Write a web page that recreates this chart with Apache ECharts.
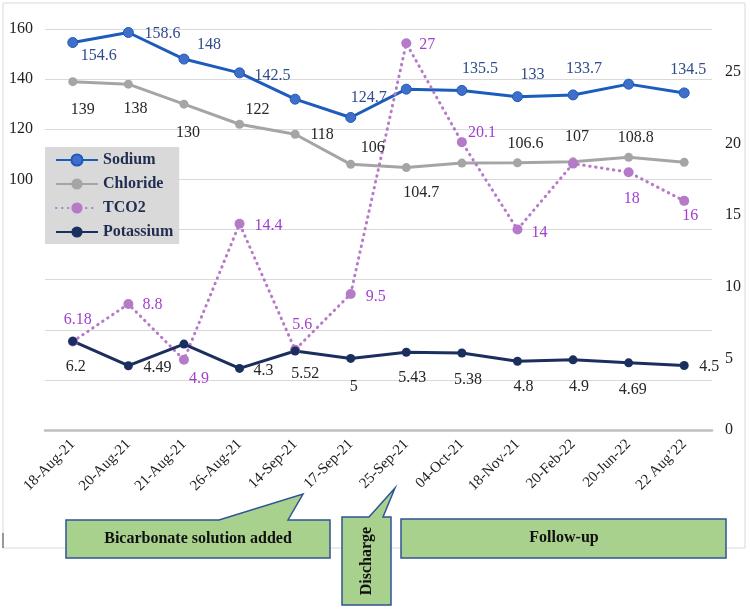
<!DOCTYPE html>
<html>
<head>
<meta charset="utf-8">
<script src="https://cdn.jsdelivr.net/npm/echarts@6/dist/echarts.min.js"></script>
<style>
  html, body { margin: 0; padding: 0; background: #fff; }
  #chart { width: 750px; height: 609px; }
</style>
</head>
<body>
<div id="chart"></div>
<script>
// data
const dates = ['18-Aug-21', '20-Aug-21', '21-Aug-21', '26-Aug-21', '14-Sep-21', '17-Sep-21',
  '25-Sep-21', '04-Oct-21', '18-Nov-21', '20-Feb-22', '20-Jun-22', '22 Aug\u201922'];
const sodium = [154.6, 158.6, 148, 142.5, 132, 124.7, 136, 135.5, 133, 133.7, 138, 134.5];
const chloride = [139, 138, 130, 122, 118, 106, 104.7, 106.5, 106.6, 107, 108.8, 106.8];
const tco2 = [6.18, 8.8, 4.9, 14.4, 5.6, 9.5, 27, 20.1, 14, 18.6, 18, 16];
const potassium = [6.2, 4.49, 6, 4.3, 5.52, 5, 5.43, 5.38, 4.8, 4.9, 4.69, 4.5];
const leftTicks = [100, 120, 140, 160];
const rightTicks = [0, 5, 10, 15, 20, 25];

// label placement (offset from the marker, null = no label)
const sodiumLbl = [[26, 13], [34, 1], [25, -14], [33, 3], null, [18, -20], null, [18, -22], [15, -22], [11, -26], null, [4, -23]];
const chlorideLbl = [[10, 28], [7, 25], [4, 29], [18, -14], [27, 1], [22, -17], [15, 25], null, [8, -19], [4, -25], [7, -20], null];
const tco2Lbl = [[5, -22], [24, 1], [15, 19], [29, 2], [7, -25], [25, 3], [21, 1], [20, -9], [22, 3], null, [3, 27], [6, 15]];
const potassiumLbl = [[3, 26], [29, 2], null, [24, 2], [10, 23], [3, 28], [6, 26], [6, 27], [6, 26], [6, 27], [4, 27], [25, 1]];

const FONT = '"Liberation Serif", "Times New Roman", serif';

function withLabels(values, offs, color) {
  return values.map((v, i) => ({
    value: v,
    label: offs[i]
      ? { show: true, position: 'inside', offset: offs[i], color: color, fontFamily: FONT, fontSize: 16 }
      : { show: false }
  }));
}

const chart = echarts.init(document.getElementById('chart'));

// callout boxes under the axis
function callout(points) {
  return {
    type: 'polygon',
    shape: { points: points },
    style: { fill: '#a9d18e', stroke: '#2f5496', lineWidth: 1.5 },
    z: 10
  };
}
function boxText(x, y, text, rot) {
  return {
    type: 'text', x: x, y: y, rotation: rot || 0, z: 11,
    style: { text: text, fill: '#111', font: 'bold 16px ' + FONT, align: 'center', verticalAlign: 'middle' }
  };
}

const option = {
  backgroundColor: '#fff',
  animation: false,
  grid: { left: 45, right: 38, top: 29, bottom: 179 },
  legend: {
    orient: 'vertical',
    left: 45,
    top: 147,
    backgroundColor: '#d9d9d9',
    padding: [5, 6, 4, 10],
    itemWidth: 42,
    itemHeight: 14,
    itemGap: 8,
    textStyle: { fontFamily: FONT, fontSize: 16, fontWeight: 'bold', color: '#1f2d50' },
    data: ['Sodium', 'Chloride', 'TCO2', 'Potassium']
  },
  xAxis: {
    type: 'category',
    data: dates,
    axisLine: { lineStyle: { color: '#bfbfbf', width: 2.5 } },
    axisTick: { show: false },
    axisLabel: { rotate: 45, margin: 12, fontFamily: FONT, fontSize: 15, color: '#222', interval: 0 }
  },
  yAxis: [
    {
      type: 'value', min: 0, max: 160, interval: 20,
      axisLine: { show: false }, axisTick: { show: false },
      splitLine: { lineStyle: { color: '#d9d9d9', width: 1 } },
      axisLabel: {
        margin: 12, fontFamily: FONT, fontSize: 16, color: '#222',
        formatter: v => (leftTicks.includes(v) ? String(v) : '')
      }
    },
    {
      type: 'value', min: 0, max: 28, interval: 5,
      axisLine: { show: false }, axisTick: { show: false },
      splitLine: { show: false },
      axisLabel: {
        margin: 13, fontFamily: FONT, fontSize: 16, color: '#222',
        formatter: v => (rightTicks.includes(v) ? String(v) : '')
      }
    }
  ],
  series: [
    {
      name: 'Sodium', type: 'line', yAxisIndex: 0,
      data: withLabels(sodium, sodiumLbl, '#2f4b8c'),
      symbol: 'circle', symbolSize: 10,
      lineStyle: { color: '#1c5cbc', width: 3 },
      itemStyle: { color: '#3f6fc8', borderColor: '#1c5cbc', borderWidth: 1 }
    },
    {
      name: 'Chloride', type: 'line', yAxisIndex: 0,
      data: withLabels(chloride, chlorideLbl, '#262626'),
      symbol: 'circle', symbolSize: 9,
      lineStyle: { color: '#a5a5a5', width: 3 },
      itemStyle: { color: '#a5a5a5' }
    },
    {
      name: 'TCO2', type: 'line', yAxisIndex: 1,
      data: withLabels(tco2, tco2Lbl, '#a33fce'),
      symbol: 'circle', symbolSize: 10,
      lineStyle: { color: '#b57ac8', width: 3, type: [0.5, 5.5], cap: 'round' },
      itemStyle: { color: '#b57ac8' }
    },
    {
      name: 'Potassium', type: 'line', yAxisIndex: 1,
      data: withLabels(potassium, potassiumLbl, '#262626'),
      symbol: 'circle', symbolSize: 9,
      lineStyle: { color: '#1b2f5e', width: 3 },
      itemStyle: { color: '#1b2f5e' }
    }
  ],
  graphic: [
    {
      type: 'rect', z: -1, silent: true,
      shape: { x: 3, y: 3, width: 742, height: 545 },
      style: { fill: 'none', stroke: '#d9d9d9', lineWidth: 1 }
    },
    {
      type: 'line', z: 1,
      shape: { x1: 3, y1: 533, x2: 3, y2: 548 },
      style: { stroke: '#444', lineWidth: 1 }
    },
    callout([[66, 520], [219, 520], [303, 494], [288, 520], [330, 520], [330, 558], [66, 558]]),
    boxText(198, 539, 'Bicarbonate solution added'),
    callout([[342, 517], [369, 517], [395, 488], [383, 517], [391, 517], [391, 605], [342, 605]]),
    boxText(367, 561, 'Discharge', Math.PI / 2),
    callout([[401, 519], [726, 519], [726, 558], [401, 558]]),
    boxText(564, 538, 'Follow-up')
  ]
};

chart.setOption(option);
</script>
</body>
</html>
